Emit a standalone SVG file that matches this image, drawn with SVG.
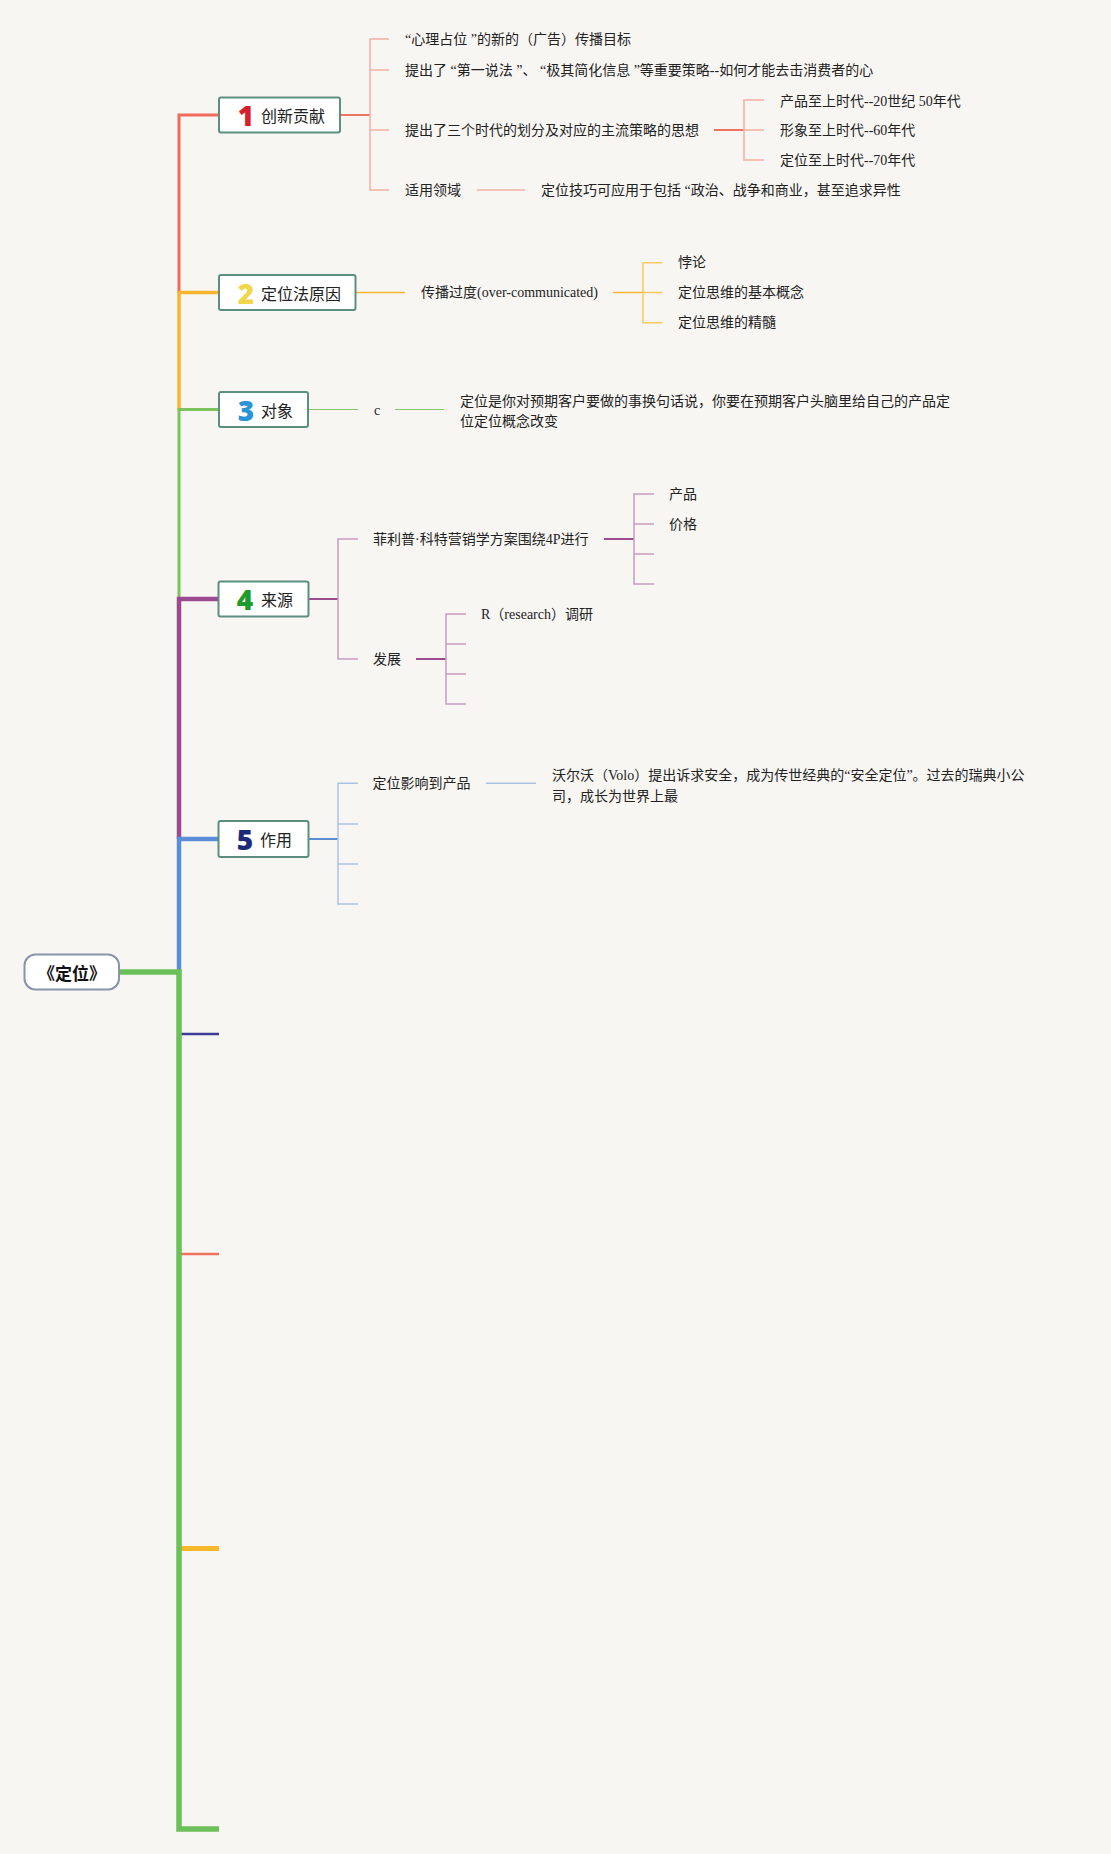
<svg xmlns="http://www.w3.org/2000/svg" width="1111" height="1854" viewBox="0 0 1111 1854">
<style>
.t{font-family:"Liberation Serif","Noto Sans CJK SC",sans-serif;font-size:14px;fill:#222;dominant-baseline:central}
.nl{font-family:"Noto Sans CJK SC","Noto Sans",sans-serif;font-size:16px;fill:#222;dominant-baseline:central}
.num{font-family:"Noto Sans","DejaVu Sans",sans-serif;font-size:28px;font-weight:900;text-anchor:middle;dominant-baseline:central}
.box{fill:#ffffff;stroke:#5d8f80;stroke-width:2}
.c{fill:none;stroke-linecap:butt;stroke-linejoin:miter}
.r1{stroke:#ee7360;stroke-width:2}
.r2{stroke:#f3b0a4;stroke-width:1.5}
.o1{stroke:#f5b530;stroke-width:1.5}
.o2{stroke:#f7c960;stroke-width:1.5}
.g1{stroke:#86c56a;stroke-width:1.2}
.p1{stroke:#9c4c8e;stroke-width:2}
.p2{stroke:#c89cc0;stroke-width:1.5}
.b1{stroke:#5b8fd2;stroke-width:2}
.b2{stroke:#a9c3e4;stroke-width:1.5}
</style>
<rect x="0" y="0" width="1111" height="1854" fill="#f8f6f3"/>

<g id="connectors">
  <!-- trunk, upward branches as separate colour segments -->
  <path class="c" d="M179 292.5 V115 H219" stroke="#f06b5a" stroke-width="3"/>
  <path class="c" d="M179 409.5 V292.5 H219" stroke="#f6b52c" stroke-width="3.5"/>
  <path class="c" d="M179 599 V409.5 H219" stroke="#7cc35c" stroke-width="3"/>
  <path class="c" d="M179 839 V599 H219" stroke="#9b4a8f" stroke-width="4.5"/>
  <path class="c" d="M179 972 V839 H219" stroke="#5b8ed6" stroke-width="4.5"/>
  <!-- downward branches -->
  <path class="c" d="M179 1034 H219" stroke="#3f3c95" stroke-width="2.5"/>
  <path class="c" d="M179 1254 H219" stroke="#f0735f" stroke-width="2.5"/>
  <path class="c" d="M179 1548.5 H219" stroke="#f7b92a" stroke-width="5"/>
  <path class="c" d="M119 972 H179 V1829 H219" stroke="#6cc05a" stroke-width="5.5"/>

  <!-- node 1 -->
  <path class="c r1" d="M340 115 H370"/>
  <path class="c r2" d="M389 39 H370 V190 H389 M370 70 H389 M370 130 H389"/>
  <path class="c r1" d="M714 130 H744"/>
  <path class="c r2" d="M764 100 H744 V160 H764 M744 130 H764"/>
  <path class="c r2" d="M477 190 H525"/>

  <!-- node 2 -->
  <path class="c o1" d="M355.5 292.5 H405"/>
  <path class="c o1" d="M613 292.5 H643"/>
  <path class="c o2" d="M662.5 262.7 H643 V322.7 H662.5 M643 292.5 H662.5"/>

  <!-- node 3 -->
  <path class="c g1" d="M308 409.5 H358 M395 409.5 H444"/>

  <!-- node 4 -->
  <path class="c p1" d="M308.4 599 H338"/>
  <path class="c p2" d="M358 539 H338 V659 H358"/>
  <path class="c p1" d="M604 539 H634"/>
  <path class="c p2" d="M654 494 H634 V584 H654 M634 524 H654 M634 554 H654"/>
  <path class="c p1" d="M416 659 H446"/>
  <path class="c p2" d="M466 614 H446 V704 H466 M446 644 H466 M446 674 H466"/>

  <!-- node 5 -->
  <path class="c b1" d="M308.2 839 H338"/>
  <path class="c b2" d="M358 783.3 H338 V904 H358 M338 824 H358 M338 864 H358"/>
  <path class="c b2" d="M486 783.3 H536"/>
</g>

<g id="root">
  <rect x="24.5" y="954.5" width="94.5" height="35" rx="11" fill="#ffffff" stroke="#8a93aa" stroke-width="2"/>
  <text x="72" y="972" font-family="Noto Sans CJK SC,sans-serif" font-size="17" font-weight="bold" text-anchor="middle" dominant-baseline="central" fill="#111">《定位》</text>
</g>

<g id="node1">
  <rect class="box" x="219" y="97.5" width="121" height="35" rx="2"/>
  <text class="num" x="246" y="115" fill="#d81f2d">1</text>
  <text class="nl" x="261" y="115">创新贡献</text>
</g>
<g id="node1-children">
  <text class="t" x="405" y="39">“心理占位 ”的新的（广告）传播目标</text>
  <text class="t" x="405" y="70">提出了 “第一说法 ”、 “极其简化信息 ”等重要策略--如何才能去击消费者的心</text>
  <text class="t" x="405" y="130">提出了三个时代的划分及对应的主流策略的思想</text>
  <text class="t" x="780" y="101">产品至上时代--20世纪 50年代</text>
  <text class="t" x="780" y="130">形象至上时代--60年代</text>
  <text class="t" x="780" y="160">定位至上时代--70年代</text>
  <text class="t" x="405" y="190">适用领域</text>
  <text class="t" x="541" y="190">定位技巧可应用于包括 “政治、战争和商业，甚至追求异性</text>
</g>

<g id="node2">
  <rect class="box" x="219" y="275" width="136.5" height="35" rx="2"/>
  <text class="num" x="246" y="292.5" fill="#f1d64a">2</text>
  <text class="nl" x="261" y="292.5">定位法原因</text>
</g>
<g id="node2-children">
  <text class="t" x="421" y="292.5">传播过度(over-communicated)</text>
  <text class="t" x="678" y="262.7">悖论</text>
  <text class="t" x="678" y="292.5">定位思维的基本概念</text>
  <text class="t" x="678" y="322.7">定位思维的精髓</text>
</g>

<g id="node3">
  <rect class="box" x="219" y="392" width="89" height="35" rx="2"/>
  <text class="num" x="246" y="409.5" fill="#2a94d6">3</text>
  <text class="nl" x="261" y="409.5">对象</text>
</g>
<g id="node3-children">
  <text class="t" x="374" y="410">c</text>
  <text class="t" x="460" y="401.7">定位是你对预期客户要做的事换句话说，你要在预期客户头脑里给自己的产品定</text>
  <text class="t" x="460" y="421.7">位定位概念改变</text>
</g>

<g id="node4">
  <rect class="box" x="218.5" y="581.5" width="90" height="35" rx="2"/>
  <text class="num" x="245" y="599" fill="#1d9b2c">4</text>
  <text class="nl" x="261" y="599">来源</text>
</g>
<g id="node4-children">
  <text class="t" x="373" y="539">菲利普·科特营销学方案围绕4P进行</text>
  <text class="t" x="669" y="494">产品</text>
  <text class="t" x="669" y="524">价格</text>
  <text class="t" x="373" y="659">发展</text>
  <text class="t" x="481" y="614">R（research）调研</text>
</g>

<g id="node5">
  <rect class="box" x="218.5" y="821" width="90" height="36" rx="2"/>
  <text class="num" x="245" y="839" fill="#1c2a78">5</text>
  <text class="nl" x="260" y="839">作用</text>
</g>
<g id="node5-children">
  <text class="t" x="372.5" y="783.3">定位影响到产品</text>
  <text class="t" x="552" y="775">沃尔沃（Volo）提出诉求安全，成为传世经典的“安全定位”。过去的瑞典小公</text>
  <text class="t" x="552" y="796">司，成长为世界上最</text>
</g>
</svg>
